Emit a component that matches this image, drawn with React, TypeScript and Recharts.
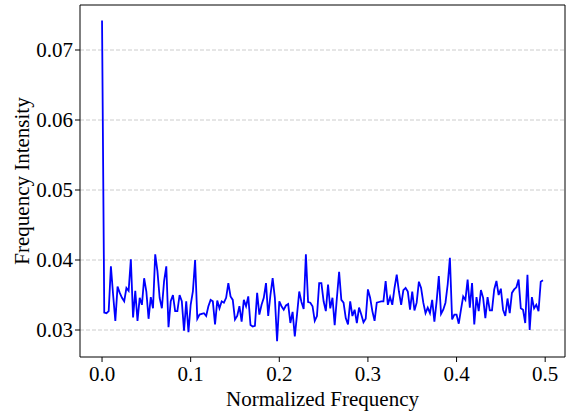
import React from 'react';
import { LineChart, Line, XAxis, YAxis, CartesianGrid, ReferenceLine } from 'recharts';

// Normalized frequency grid: 200 bins, step 0.0025 (0 .. 0.4975)
const FREQ_STEP = 0.0025;

const intensity: number[] = [
  0.0742, 0.0325, 0.0324, 0.0327, 0.0391, 0.0350, 0.0313, 0.0362, 0.0353, 0.0346,
  0.0341, 0.0360, 0.0356, 0.0401, 0.0318, 0.0356, 0.0313, 0.0346, 0.0336, 0.0374,
  0.0355, 0.0316, 0.0347, 0.0331, 0.0408, 0.0384, 0.0346, 0.0331, 0.0370, 0.0391,
  0.0304, 0.0341, 0.0350, 0.0327, 0.0327, 0.0350, 0.0341, 0.0299, 0.0341, 0.0297,
  0.0336, 0.0355, 0.0400, 0.0316, 0.0322, 0.0323, 0.0324, 0.0320, 0.0334, 0.0343,
  0.0341, 0.0308, 0.0342, 0.0331, 0.0341, 0.0339, 0.0346, 0.0367, 0.0348, 0.0343,
  0.0315, 0.0320, 0.0334, 0.0312, 0.0343, 0.0334, 0.0348, 0.0307, 0.0305, 0.0306,
  0.0353, 0.0322, 0.0336, 0.0346, 0.0367, 0.0320, 0.0350, 0.0374, 0.0346, 0.0284,
  0.0341, 0.0334, 0.0329, 0.0335, 0.0337, 0.0310, 0.0326, 0.0291, 0.0322, 0.0355,
  0.0340, 0.0330, 0.0408, 0.0340, 0.0339, 0.0334, 0.0313, 0.0320, 0.0367, 0.0367,
  0.0341, 0.0327, 0.0365, 0.0331, 0.0346, 0.0307, 0.0346, 0.0383, 0.0343, 0.0339,
  0.0317, 0.0308, 0.0341, 0.0320, 0.0329, 0.0310, 0.0332, 0.0322, 0.0311, 0.0316,
  0.0358, 0.0346, 0.0327, 0.0313, 0.0339, 0.0340, 0.0341, 0.0341, 0.0370, 0.0336,
  0.0347, 0.0336, 0.0360, 0.0379, 0.0355, 0.0336, 0.0357, 0.0360, 0.0355, 0.0329,
  0.0355, 0.0328, 0.0339, 0.0369, 0.0360, 0.0339, 0.0324, 0.0332, 0.0324, 0.0343,
  0.0312, 0.0341, 0.0377, 0.0323, 0.0329, 0.0339, 0.0365, 0.0403, 0.0315, 0.0322,
  0.0322, 0.0309, 0.0329, 0.0348, 0.0343, 0.0372, 0.0332, 0.0367, 0.0308, 0.0347,
  0.0327, 0.0357, 0.0346, 0.0317, 0.0347, 0.0328, 0.0328, 0.0358, 0.0370, 0.0350,
  0.0359, 0.0329, 0.0320, 0.0345, 0.0324, 0.0353, 0.0358, 0.0361, 0.0372, 0.0331,
  0.0329, 0.0310, 0.0379, 0.0300, 0.0347, 0.0331, 0.0336, 0.0327, 0.0369, 0.0371,
];

const xTicks: number[] = [0, 0.1, 0.2, 0.3, 0.4, 0.5];
const yTicks: number[] = [0.03, 0.04, 0.05, 0.06, 0.07];
const xDomain: [number, number] = [-0.02487, 0.52237];
const yDomain: [number, number] = [0.026143, 0.076429];

const data = intensity.map((v, i) => ({ f: i * FREQ_STEP, v }));

const FONT = '"Liberation Serif", "Times New Roman", serif';
const FS = 21;
const tickStyle = { fill: '#000', fontSize: FS, fontFamily: FONT };

const XTitle = () => (
  <text x={322.5} y={399} textAnchor="middle" dominantBaseline="central" fill="#000" fontSize={FS} fontFamily={FONT}>
    Normalized Frequency
  </text>
);

const YTitle = () => (
  <text x={22} y={181} transform="rotate(-90 22 181)" textAnchor="middle" dominantBaseline="central" fill="#000" fontSize={FS} fontFamily={FONT}>
    Frequency Intensity
  </text>
);

export default function App() {
  return (
    <div style={{ position: 'absolute', left: 0, top: 0, background: '#fff' }}>
      <LineChart width={566} height={413} data={data} margin={{ top: 5, right: 1, left: 0, bottom: 0 }}>
        <CartesianGrid horizontal vertical={false} stroke="#cccccc" strokeDasharray="4 2" horizontalValues={yTicks} />
        <XAxis
          dataKey="f"
          type="number"
          domain={xDomain}
          ticks={xTicks}
          allowDataOverflow
          tickFormatter={(v: number) => v.toFixed(1)}
          height={56}
          tickSize={5}
          tickMargin={4}
          stroke="#000"
          tick={tickStyle}
          label={() => <XTitle />}
        />
        <YAxis
          type="number"
          domain={yDomain}
          ticks={yTicks}
          allowDataOverflow
          tickFormatter={(v: number) => v.toFixed(2)}
          width={80}
          tickSize={5}
          tickMargin={2}
          stroke="#000"
          tick={tickStyle}
          label={() => <YTitle />}
        />
        <Line dataKey="v" stroke="#0000ff" strokeWidth={1.8} dot={false} isAnimationActive={false} />
        <ReferenceLine y={yDomain[1]} stroke="#000" strokeWidth={1} ifOverflow="extendDomain" />
        <ReferenceLine x={xDomain[1]} stroke="#000" strokeWidth={1} ifOverflow="extendDomain" />
      </LineChart>
    </div>
  );
}
